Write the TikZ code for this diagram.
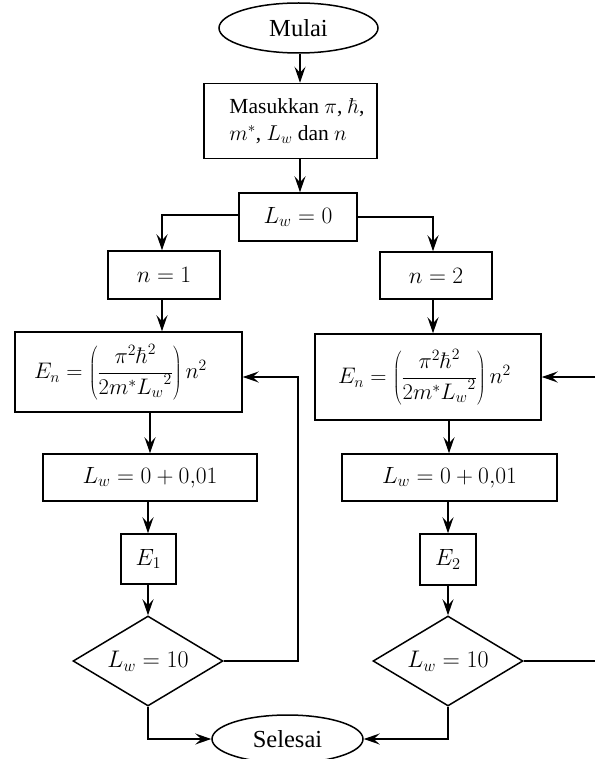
\RequirePackage{fix-cm}
\documentclass[tikz,border=0pt]{standalone}
\usepackage[no-math]{fontspec}
\setmainfont{Liberation Serif}
\usetikzlibrary{shapes.geometric,arrows.meta}
\begin{document}
\begin{tikzpicture}[x=1pt,y=-1pt,line width=1.5pt,
  box/.style={draw,rectangle,inner sep=0pt,font=\fontsize{23.5}{27}\selectfont},
  term/.style={draw,ellipse,inner sep=0pt,font=\fontsize{24.5}{28}\selectfont},
  dec/.style={draw,diamond,inner sep=0pt,aspect=1.67,minimum width=150pt,minimum height=90pt,font=\fontsize{24}{28}\selectfont},
  formula/.style={draw,rectangle,inner sep=0pt,font=\fontsize{22.5}{26}\selectfont},
  arr/.style={-{Stealth[length=16pt,width=11pt,inset=6pt]}}]
\useasboundingbox (0,0) rectangle (595,759);
\fill[white] (0,0) rectangle (595,759);

\node[term,minimum width=159pt,minimum height=50pt] (start) at (298.5,28) {Mulai};
\node[draw,rectangle,inner sep=0pt,minimum width=173pt,minimum height=75pt,
  align=left,font=\fontsize{21.5}{27}\selectfont] (input) at (290.5,121)
  {\kern13pt Masukkan $\pi$, $\hbar$,\\\kern13pt $m^{*}$, $L_w$ dan $n$};
\node[box,minimum width=118pt,minimum height=48pt] (lw0) at (298,217) {$L_w=0$};

\node[box,minimum width=112pt,minimum height=48pt] (n1) at (164,275) {$n=1$};
\node[box,minimum width=112pt,minimum height=47pt] (n2) at (436,275.5) {$n=2$};

\node[formula,minimum width=227pt,minimum height=80pt] (f1) at (128.5,372)
  {\kern-16pt$E_n=\left(\displaystyle\frac{\pi^2\hbar^2}{2m^{*}{L_w}^2}\right)n^2$};
\node[formula,minimum width=226pt,minimum height=86pt] (f2) at (428,377)
  {\kern-7pt$E_n=\left(\displaystyle\frac{\pi^2\hbar^2}{2m^{*}{L_w}^2}\right)n^2$};

\node[box,minimum width=214pt,minimum height=47pt] (u1) at (150,477.5) {$L_w=0+0{,}01$};
\node[box,minimum width=215pt,minimum height=47pt] (u2) at (449.5,477.5) {$L_w=0+0{,}01$};

\node[box,minimum width=55pt,minimum height=50pt] (e1) at (148.5,559) {$E_1$};
\node[box,minimum width=56pt,minimum height=51pt] (e2) at (448,559.5) {$E_2$};

\node[dec] (d1) at (148,661) {$L_w=10$};
\node[dec] (d2) at (448,661) {$L_w=10$};

\node[term,minimum width=151pt,minimum height=48pt] (stop) at (287.5,739) {Selesai};

\coordinate (c0) at (300,0);
\coordinate (l1) at (162,215);
\coordinate (r1) at (433,217);
\coordinate (cx1) at (150,0);
\coordinate (cx2) at (449,0);
\coordinate (loopa) at (298,661);
\coordinate (loopb) at (298,377);
\coordinate (edgea) at (595,661);
\coordinate (edgeb) at (595,377);
\coordinate (b1) at (148,739);
\coordinate (b2) at (448,739);

\draw[arr] (start.south -| c0) -- (input.north -| c0);
\draw[arr] (input.south -| c0) -- (lw0.north -| c0);
\draw[arr] (lw0.west |- l1) -- (l1) -- (n1.north -| l1);
\draw[arr] (lw0.east |- r1) -- (r1) -- (n2.north -| r1);
\draw[arr] (n1.south -| l1) -- (f1.north -| l1);
\draw[arr] (n2.south -| r1) -- (f2.north -| r1);
\draw[arr] (f1.south -| cx1) -- (u1.north -| cx1);
\draw[arr] (f2.south -| cx2) -- (u2.north -| cx2);
\draw[arr] (u1.south -| d1.north) -- (e1.north -| d1.north);
\draw[arr] (u2.south -| d2.north) -- (e2.north -| d2.north);
\draw[arr] (e1.south -| d1.north) -- (d1.north);
\draw[arr] (e2.south -| d2.north) -- (d2.north);
\draw[arr] (d1.east) -- (loopa) -- (loopb) -- (f1.east |- loopb);
\draw (d2.east) -- (edgea);
\draw[arr] (edgeb) -- (f2.east |- edgeb);
\draw[arr] (d1.south) -- (b1) -- (stop.west);
\draw[arr] (d2.south) -- (b2) -- (stop.east);
\end{tikzpicture}
\end{document}
